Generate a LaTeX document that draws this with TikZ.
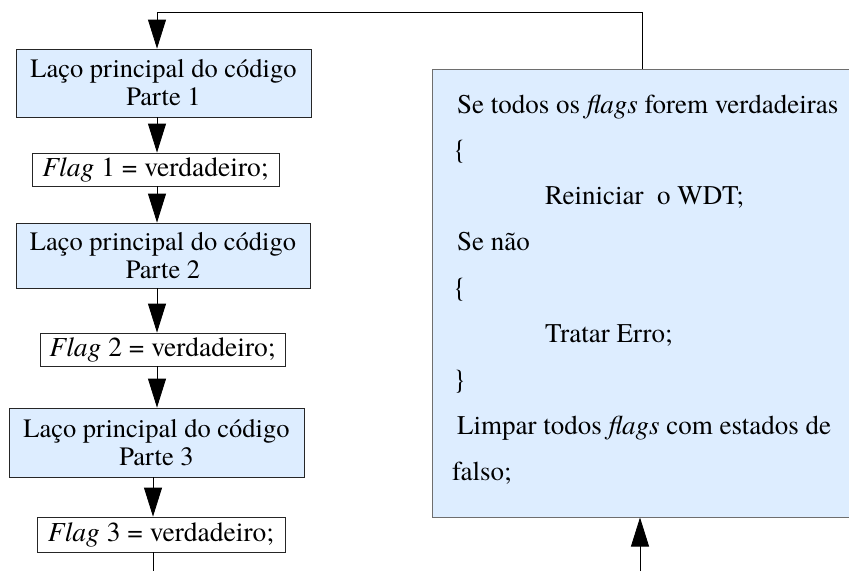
\documentclass[tikz,border=0pt]{standalone}
\usepackage{fontspec}
\setmainfont{texgyretermes}[Extension=.otf, UprightFont=*-regular, ItalicFont=*-italic, BoldFont=*-bold, BoldItalicFont=*-bolditalic]
\usetikzlibrary{arrows.meta}
\definecolor{boxblue}{RGB}{221,237,255}
\definecolor{rborder}{RGB}{110,110,110}
\begin{document}
\begin{tikzpicture}[x=1pt,y=-1pt,
  mainbox/.style={draw=black!85, fill=boxblue, line width=0.8pt, align=center, inner sep=0pt,
    font=\fontsize{26.5}{28}\selectfont},
  flagbox/.style={draw=black!85, fill=white, line width=0.8pt, align=center, inner sep=0pt,
    font=\fontsize{27.5}{28}\selectfont},
  codebox/.style={draw=rborder, fill=boxblue, line width=1pt, inner sep=0pt},
  codeline/.style={anchor=base west, inner sep=0pt, font=\fontsize{27}{28}\selectfont},
  arr/.style={-{Triangle[length=29pt,width=18pt]}, line width=0.8pt},
  conn/.style={line width=0.8pt}]
\useasboundingbox (0,0) rectangle (849,571);
% left column
\node[mainbox, minimum width=295pt, minimum height=68pt] (b1) at (163.5,83) {Laço principal do código\\Parte 1};
\node[flagbox, minimum width=247pt, minimum height=33pt] (f1) at (155.5,169.5) {\textit{Flag} 1 = verdadeiro;};
\node[mainbox, minimum width=294pt, minimum height=65pt] (b2) at (163,255.5) {Laço principal do código\\Parte 2};
\node[flagbox, minimum width=245pt, minimum height=33pt] (f2) at (162.5,349.5) {\textit{Flag} 2 = verdadeiro;};
\node[mainbox, minimum width=295pt, minimum height=69pt] (b3) at (156.5,442.5) {Laço principal do código\\Parte 3};
\node[flagbox, minimum width=248pt, minimum height=35pt] (f3) at (161,534.5) {\textit{Flag} 3 = verdadeiro;};
% right code box
\node[codebox, minimum width=424pt, minimum height=448pt] (rb) at (644,293) {};
\node[codeline] (l1) at (457,113) {Se todos os \textit{flags} forem verdadeiras};
\node[codeline] (l2) at (453,158) {\{};
\node[codeline] (l3) at (545,204) {Reiniciar\ \ o WDT;};
\node[codeline] (l4) at (457,250) {Se não};
\node[codeline] (l5) at (453,296) {\{};
\node[codeline] (l6) at (545,342) {Tratar Erro;};
\node[codeline] (l7) at (453,388) {\}};
\node[codeline] (l8) at (457,434) {Limpar todos \textit{flags} com estados de};
\node[codeline] (l9) at (452,480) {falso;};
% connector axes
\coordinate (ax1) at (157,0);
\coordinate (ax2) at (153,0);
\coordinate (loopx) at (642,0);
\coordinate (toprun) at (157,12);
\coordinate (endL) at (153,571);
\coordinate (startR) at (640,571);
% connectors
\draw[arr] (rb.north -| loopx) |- (toprun) -- (b1.north -| ax1);
\draw[arr] (b1.south -| ax1) -- (f1.north -| ax1);
\draw[arr] (f1.south -| ax1) -- (b2.north -| ax1);
\draw[arr] (b2.south -| ax1) -- (f2.north -| ax1);
\draw[arr] (f2.south -| ax1) -- (b3.north -| ax1);
\draw[arr] (b3.south -| ax2) -- (f3.north -| ax2);
\draw[conn] (f3.south -| ax2) -- (endL);
\draw[arr] (startR) -- (rb.south -| startR);
\end{tikzpicture}
\end{document}
